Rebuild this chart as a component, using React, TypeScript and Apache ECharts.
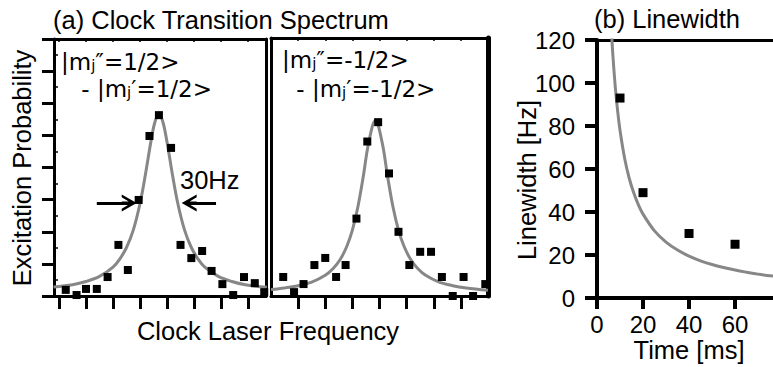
import React, { useEffect, useRef } from 'react';
import * as echarts from 'echarts';

// Panel (a) left: |mj''=1/2> - |mj'=1/2>
const freqA = [-75, -67, -60, -52, -44, -36, -29, -21, -13, -6, 3, 10, 18, 26, 33, 41, 49, 57, 65, 72];
const probA = [0.019, 0.003, 0.022, 0.022, 0.059, 0.159, 0.081, 0.299, 0.498, 0.563, 0.461, 0.159, 0.118, 0.14, 0.078, 0.037, 0.003, 0.059, 0.04, 0.012];
const fitFreqA = [-84, -70, -60, -50, -40, -35, -30, -25, -20, -16, -12, -9, -6, -3, 0, 4, 8, 13, 18, 23, 28, 38, 48, 58, 74];
const fitProbA = [0.028, 0.035, 0.045, 0.061, 0.09, 0.115, 0.151, 0.205, 0.288, 0.378, 0.479, 0.541, 0.565, 0.541, 0.479, 0.378, 0.288, 0.205, 0.151, 0.115, 0.09, 0.061, 0.045, 0.035, 0.027];

// Panel (a) right: |mj''=-1/2> - |mj'=-1/2>
const freqB = [-71, -63, -56, -48, -40, -32, -25, -17, -9, -1, 7, 14, 22, 30, 38, 46, 54, 62, 69, 78];
const probB = [0.059, 0.012, 0.037, 0.096, 0.118, 0.059, 0.096, 0.24, 0.479, 0.539, 0.38, 0.199, 0.096, 0.137, 0.137, 0.059, 0.0, 0.059, 0.0, 0.037];
const fitFreqB = [-80, -70, -60, -50, -40, -34, -29, -24, -20, -16, -12, -8, -3, 2, 6, 10, 14, 18, 23, 28, 34, 44, 54, 64, 80];
const fitProbB = [0.02, 0.025, 0.032, 0.043, 0.064, 0.086, 0.113, 0.155, 0.204, 0.275, 0.37, 0.475, 0.545, 0.475, 0.37, 0.275, 0.204, 0.155, 0.113, 0.086, 0.064, 0.043, 0.032, 0.025, 0.018];

// Panel (b): linewidth vs time
const timeMs = [10, 20, 40, 60];
const widthHz = [93, 49, 30, 25];
const fitTime = [6, 6.5, 7, 8, 9, 10, 12, 14, 16, 18, 20, 25, 30, 35, 40, 45, 50, 55, 60, 65, 70, 76.5];
const fitWidth = [130, 120, 111.4, 97.5, 86.7, 78, 65, 55.7, 48.8, 43.3, 39, 31.2, 26, 22.3, 19.5, 17.3, 15.6, 14.2, 13, 12, 11.1, 10.2];

// Ticks
const ticksA = [-80, -60, -40, -20, 0, 20, 40, 60];
const ticksB = [-60, -40, -20, 0, 20, 40, 60];
const timeTicks = [0, 20, 40, 60];
const probMinor = [0.05, 0.15, 0.25, 0.35, 0.45, 0.55, 0.65, 0.75];
const probAll = [0.05, 0.1, 0.15, 0.2, 0.25, 0.3, 0.35, 0.4, 0.45, 0.5, 0.55, 0.6, 0.65, 0.7, 0.75];

// Arrows marking the 30 Hz FWHM
const arrowY = 0.2895;
const arrowLeft = [-52, -28];
const arrowRight = [36.3, 16.4];

const ARIAL = '"Liberation Sans", Arial, Helvetica, sans-serif';
const DEJAVU = '"DejaVu Sans", Verdana, sans-serif';
const BLACK = '#000';
const GRAY = '#878787';

const zip = (xs: number[], ys: number[]) => xs.map((x, i) => [x, ys[i]]);

const chevron = 'path://M0,15 L8.5,0 L17,15 L14.2,15 L8.5,5.5 L2.8,15 Z M7,4 L10,4 L10,15 L7,15 Z';

function buildOption() {
  const line = (w: number) => ({ show: true, onZero: false, lineStyle: { color: BLACK, width: w } });
  const noLabel = { show: false };
  const noSplit = { show: false };
  const richBase = { fontFamily: DEJAVU, fontSize: 23, fill: BLACK };
  const rich = {
    s: { fontFamily: DEJAVU, fontSize: 15, verticalAlign: 'bottom', lineHeight: 12 },
  };
  const T = 25.5;
  return {
    animation: false,
    backgroundColor: '#ffffff',
    grid: [
      { left: 54, top: 39, width: 212, height: 257 },
      { left: 271, top: 38, width: 217, height: 258 },
      { left: 597, top: 40, right: 0, height: 258 },
    ],
    xAxis: [
      {
        gridIndex: 0, type: 'value', min: -83.7, max: 73.3, position: 'bottom',
        axisLine: line(3), axisTick: { show: true, customValues: ticksA, length: 13, lineStyle: { color: BLACK, width: 3 } },
        axisLabel: noLabel, splitLine: noSplit,
      },
      {
        gridIndex: 1, type: 'value', min: -80, max: 80, position: 'bottom',
        axisLine: line(3), axisTick: { show: true, customValues: ticksB, length: 13, lineStyle: { color: BLACK, width: 3 } },
        axisLabel: noLabel, splitLine: noSplit,
      },
      {
        gridIndex: 2, type: 'value', min: 0, max: 76.5, position: 'bottom',
        axisLine: line(4), axisTick: { show: true, customValues: timeTicks, length: 11, lineStyle: { color: BLACK, width: 4 } },
        axisLabel: { show: true, customValues: timeTicks, fontSize: 24, fontFamily: ARIAL, color: BLACK, margin: 14 },
        splitLine: noSplit,
      },
      {
        gridIndex: 0, type: 'value', min: -83.7, max: 73.3, position: 'top',
        axisLine: line(3), axisTick: { show: true, inside: true, customValues: ticksA, length: 3, lineStyle: { color: BLACK, width: 1.5 } },
        axisLabel: noLabel, splitLine: noSplit,
      },
      {
        gridIndex: 1, type: 'value', min: -80, max: 80, position: 'top',
        axisLine: line(3), axisTick: { show: true, inside: true, customValues: ticksB, length: 3, lineStyle: { color: BLACK, width: 1.5 } },
        axisLabel: noLabel, splitLine: noSplit,
      },
      {
        gridIndex: 2, type: 'value', min: 0, max: 76.5, position: 'top',
        axisLine: line(3), axisTick: { show: false }, axisLabel: noLabel, splitLine: noSplit,
      },
    ],
    yAxis: [
      {
        gridIndex: 0, type: 'value', min: 0, max: 0.8, interval: 0.1, position: 'left',
        axisLine: line(3), axisTick: { show: true, length: 12, lineStyle: { color: BLACK, width: 3 } },
        axisLabel: noLabel, splitLine: noSplit,
      },
      {
        gridIndex: 1, type: 'value', min: 0, max: 0.8, position: 'left',
        axisLine: line(3), axisTick: { show: false }, axisLabel: noLabel, splitLine: noSplit,
      },
      {
        gridIndex: 2, type: 'value', min: 0, max: 120, interval: 20, position: 'left',
        axisLine: line(4), axisTick: { show: true, length: 12, lineStyle: { color: BLACK, width: 4 } },
        axisLabel: { show: true, fontSize: 24, fontFamily: ARIAL, color: BLACK, margin: 22 },
        splitLine: noSplit,
      },
      {
        gridIndex: 0, type: 'value', min: 0, max: 0.8, position: 'right',
        axisLine: line(3), axisTick: { show: true, customValues: probAll, length: 2, lineStyle: { color: BLACK, width: 1.5 } },
        axisLabel: noLabel, splitLine: noSplit,
      },
      {
        gridIndex: 1, type: 'value', min: 0, max: 0.8, position: 'right',
        axisLine: line(5), axisTick: { show: false }, axisLabel: noLabel, splitLine: noSplit,
      },
      {
        gridIndex: 0, type: 'value', min: 0, max: 0.8, position: 'left',
        axisLine: { show: false, onZero: false }, axisTick: { show: true, inside: true, customValues: probMinor, length: 4, lineStyle: { color: BLACK, width: 1.5 } },
        axisLabel: noLabel, splitLine: noSplit,
      },
    ],
    series: [
      {
        type: 'line', xAxisIndex: 0, yAxisIndex: 0, data: zip(fitFreqA, fitProbA), smooth: 0.35,
        showSymbol: false, lineStyle: { color: GRAY, width: 3 }, z: 2,
      },
      {
        type: 'scatter', xAxisIndex: 0, yAxisIndex: 0, data: zip(freqA, probA), symbol: 'rect', symbolSize: 8,
        itemStyle: { color: BLACK, opacity: 1 }, z: 3,
        markLine: {
          silent: true, symbol: ['none', chevron], symbolSize: [17, 15],
          label: { show: false }, lineStyle: { color: BLACK, width: 3, type: 'solid', opacity: 1 },
          emphasis: { disabled: true },
          data: [
            [{ coord: [arrowLeft[0], arrowY] }, { coord: [arrowLeft[1], arrowY] }],
            [{ coord: [arrowRight[0], arrowY] }, { coord: [arrowRight[1], arrowY] }],
          ],
        },
      },
      {
        type: 'line', xAxisIndex: 1, yAxisIndex: 1, data: zip(fitFreqB, fitProbB), smooth: 0.35,
        showSymbol: false, lineStyle: { color: GRAY, width: 3 }, z: 2,
      },
      {
        type: 'scatter', xAxisIndex: 1, yAxisIndex: 1, data: zip(freqB, probB), symbol: 'rect', symbolSize: 8,
        itemStyle: { color: BLACK, opacity: 1 }, z: 3,
      },
      {
        type: 'line', xAxisIndex: 2, yAxisIndex: 2, data: zip(fitTime, fitWidth), smooth: 0.35,
        showSymbol: false, lineStyle: { color: GRAY, width: 3 }, z: 2,
      },
      {
        type: 'scatter', xAxisIndex: 2, yAxisIndex: 2, data: zip(timeMs, widthHz), symbol: 'rect', symbolSize: 9,
        itemStyle: { color: BLACK, opacity: 1 }, z: 3,
      },
    ],
    graphic: [
      { type: 'text', x: 53, y: 20, style: { text: '(a) Clock Transition Spectrum', fontFamily: ARIAL, fontSize: T, fill: BLACK, align: 'left', verticalAlign: 'middle' } },
      { type: 'text', x: 667, y: 19, style: { text: '(b) Linewidth', fontFamily: ARIAL, fontSize: T, fill: BLACK, align: 'center', verticalAlign: 'middle' } },
      { type: 'text', x: 22, y: 168, rotation: Math.PI / 2, style: { text: 'Excitation Probability', fontFamily: ARIAL, fontSize: T, fill: BLACK, align: 'center', verticalAlign: 'middle' } },
      { type: 'text', x: 268, y: 331, style: { text: 'Clock Laser Frequency', fontFamily: ARIAL, fontSize: T, fill: BLACK, align: 'center', verticalAlign: 'middle' } },
      { type: 'text', x: 527, y: 180, rotation: Math.PI / 2, style: { text: 'Linewidth [Hz]', fontFamily: ARIAL, fontSize: T, fill: BLACK, align: 'center', verticalAlign: 'middle' } },
      { type: 'text', x: 689, y: 350, style: { text: 'Time [ms]', fontFamily: ARIAL, fontSize: T, fill: BLACK, align: 'center', verticalAlign: 'middle' } },
      { type: 'text', x: 180, y: 180, style: { text: '30Hz', fontFamily: ARIAL, fontSize: T, fill: BLACK, align: 'left', verticalAlign: 'middle' } },
      { type: 'text', x: 61, y: 62, style: { ...richBase, text: '|m{s|j}\u2033=1/2>', rich, align: 'left', verticalAlign: 'middle' } },
      { type: 'text', x: 74, y: 89, style: { ...richBase, text: ' - |m{s|j}\u2032=1/2>', rich, align: 'left', verticalAlign: 'middle' } },
      { type: 'text', x: 282, y: 60, style: { ...richBase, text: '|m{s|j}\u2033=-1/2>', rich, align: 'left', verticalAlign: 'middle' } },
      { type: 'text', x: 289, y: 89, style: { ...richBase, text: ' - |m{s|j}\u2032=-1/2>', rich, align: 'left', verticalAlign: 'middle' } },
    ],
  };
}

export default function App() {
  const ref = useRef<HTMLDivElement>(null);
  useEffect(() => {
    if (!ref.current) return;
    const chart = echarts.init(ref.current, null, { renderer: 'svg' });
    chart.setOption(buildOption() as any);
    return () => chart.dispose();
  }, []);
  return <div ref={ref} style={{ position: 'absolute', left: 0, top: 0, width: 773, height: 367 }} />;
}
